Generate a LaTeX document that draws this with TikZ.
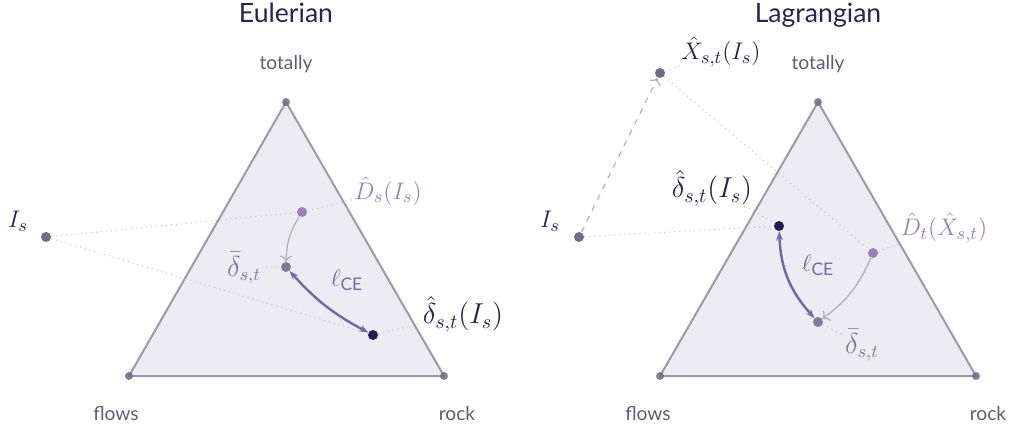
\documentclass[tikz,border=0pt]{standalone}
\usepackage{amsmath}
\usepackage{fontspec}
\setmainfont{Lato}
\setsansfont{Lato}
\usetikzlibrary{arrows.meta}
\definecolor{Ink}{RGB}{40,36,82}
\definecolor{Slate}{RGB}{96,92,120}
\definecolor{Vertex}{RGB}{112,108,134}
\definecolor{Simplex}{RGB}{156,153,171}
\definecolor{SimplexFill}{RGB}{237,236,242}
\definecolor{Lilac}{RGB}{156,126,192}
\definecolor{Mauve}{RGB}{126,123,160}
\definecolor{Navy}{RGB}{34,31,82}
\definecolor{Loss}{RGB}{116,103,166}
\definecolor{Haze}{RGB}{196,194,212}

\begin{document}
\begin{tikzpicture}[
    x=0.5pt, y=-0.5pt,
    title/.style={font=\fontsize{13.3}{16}\selectfont, text=Ink, anchor=base},
    corner/.style={font=\fontsize{9.6}{11}\selectfont, text=Slate, anchor=base},
    mlabel/.style={font=\fontsize{12.4}{14}\selectfont, inner sep=0pt},
    biglabel/.style={font=\fontsize{14}{16}\selectfont, inner sep=0pt},
    simplex/.style={draw=Simplex, line width=1pt, fill=SimplexFill, line join=round},
    vertex/.style={circle, fill=Vertex, fill opacity=0.85, minimum size=4pt, inner sep=0pt},
    dot/.style={circle, minimum size=5pt, inner sep=0pt},
    guide/.style={draw=Haze, dotted, line width=0.5pt},
    mapto/.style={draw=Simplex!80, line width=0.6pt, -{To[length=3pt]}},
    lossarrow/.style={draw=Loss, line width=1.2pt, {Stealth[length=4.5pt]}-{Stealth[length=4.5pt]}}
]
\useasboundingbox (0,0) rectangle (1010,429);

% Eulerian panel
\node[title] (eultitle) at (286,22) {Eulerian};
\coordinate (etop) at (286,102);
\coordinate (eleft) at (129,376);
\coordinate (eright) at (444,376);
\path[simplex] (etop) -- (eleft) -- (eright) -- cycle;
\node[vertex] (etopv) at (etop) {};
\node[vertex] (eleftv) at (eleft) {};
\node[vertex] (erightv) at (eright) {};
\node[corner] (etopl) at (286,69) {totally};
\node[corner] (eleftl) at (116,420) {flows};
\node[corner] (erightl) at (457,420) {rock};

\node[dot, fill=Vertex] (eIs) at (46,237) {};
\node[dot, fill=Lilac] (eD) at (302,212) {};
\node[dot, fill=Mauve] (ebar) at (286,267) {};
\node[dot, fill=Navy] (ehat) at (373,335) {};

\node[mlabel, text=Navy] (eIsl) at (18,221) {$I_s$};
\node[mlabel, text=Lilac] (eDl) at (388,191) {$\hat{D}_s(I_s)$};
\node[mlabel, text=Mauve, font=\fontsize{13.3}{15}\selectfont] (ebarl) at (244,268) {$\bar{\delta}_{s,t}$};
\node[biglabel, text=Navy] (ehatl) at (463,314) {$\hat{\delta}_{s,t}(I_s)$};
\node[mlabel, text=Loss] (eloss) at (347,280) {$\ell_{\mathsf{CE}}$};

\draw[guide] (eIs) -- (eD);
\draw[guide] (eIs) -- (ehat);
\draw[guide] (eD) -- (eDl);
\draw[guide] (ebarl) -- (ebar);
\draw[guide] (ehat) -- (ehatl);
\draw[mapto] (eD) to[bend right=15] (ebar);
\draw[lossarrow] (ebar) to[bend right=10] (ehat);

% Lagrangian panel
\node[title] (lagtitle) at (818,22) {Lagrangian};
\coordinate (ltop) at (818,102);
\coordinate (lleft) at (660,376);
\coordinate (lright) at (976,376);
\path[simplex] (ltop) -- (lleft) -- (lright) -- cycle;
\node[vertex] (ltopv) at (ltop) {};
\node[vertex] (lleftv) at (lleft) {};
\node[vertex] (lrightv) at (lright) {};
\node[corner] (ltopl) at (818,69) {totally};
\node[corner] (lleftl) at (648,420) {flows};
\node[corner] (lrightl) at (988,420) {rock};

\node[dot, fill=Vertex] (lIs) at (579,237) {};
\node[dot, fill=Vertex] (lX) at (660,73) {};
\node[dot, fill=Navy] (lhat) at (779,226) {};
\node[dot, fill=Lilac] (lD) at (873,253) {};
\node[dot, fill=Mauve] (lbar) at (818,322) {};

\node[mlabel, text=Navy] (lIsl) at (550,221) {$I_s$};
\node[mlabel, text=Navy] (lXl) at (721,52) {$\hat{X}_{s,t}(I_s)$};
\node[biglabel, text=Navy] (lhatl) at (712,188) {$\hat{\delta}_{s,t}(I_s)$};
\node[mlabel, text=Lilac] (lDl) at (944,228) {$\hat{D}_t(\hat{X}_{s,t})$};
\node[mlabel, text=Mauve, font=\fontsize{13.3}{15}\selectfont] (lbarl) at (862,345) {$\bar{\delta}_{s,t}$};
\node[mlabel, text=Loss] (lloss) at (818,265) {$\ell_{\mathsf{CE}}$};

\draw[draw=Simplex!75, dashed, line width=0.6pt, -{To[length=3pt]}] (lIs) -- (lX);
\draw[guide] (lIs) -- (lhat);
\draw[guide] (lX) -- (lD);
\draw[guide] (lX) -- (lXl);
\draw[guide] (lhatl) -- (lhat);
\draw[guide] (lD) -- (lDl);
\draw[guide] (lbar) -- (lbarl);
\draw[mapto] (lD) to[bend left=15] (lbar);
\draw[lossarrow] (lhat) to[bend right=20] (lbar);

\end{tikzpicture}
\end{document}
